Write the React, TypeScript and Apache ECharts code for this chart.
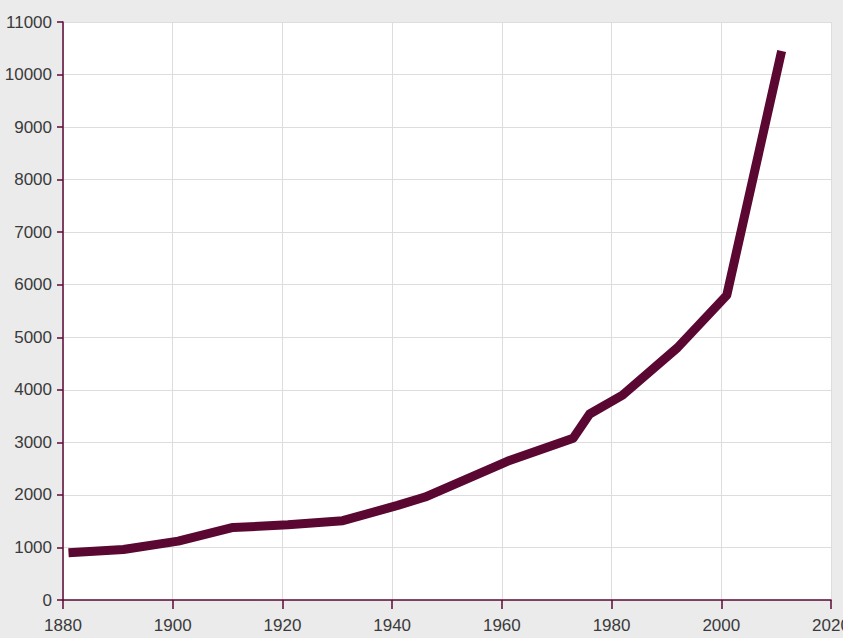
import React, { useEffect, useRef } from "react";
import * as echarts from "echarts";

const years: number[] = [1881, 1891, 1901, 1911, 1921, 1931, 1941, 1946, 1961, 1973, 1976, 1982, 1992, 2001, 2011];
const values: number[] = [900, 960, 1120, 1380, 1430, 1510, 1800, 1960, 2640, 3080, 3540, 3900, 4800, 5800, 10450];

const xMin = 1880;
const xMax = 2020;
const xStep = 20;
const yMin = 0;
const yMax = 11000;
const yStep = 1000;

export default function App() {
  const ref = useRef<HTMLDivElement>(null);
  useEffect(() => {
    document.body.style.margin = "0";
    if (!ref.current) return;
    const chart = echarts.init(ref.current, undefined, { renderer: "svg" });
    const axisColor = "#5c0a35";
    const labelStyle = {
      color: "#3a3a3a",
      fontSize: 17,
      fontFamily: "'Liberation Sans Narrow', 'Arial Narrow', 'Liberation Sans', sans-serif",
      formatter: (v: number) => String(v),
    };
    chart.setOption({
      animation: false,
      backgroundColor: "#ebebeb",
      grid: {
        left: 63,
        right: 12,
        top: 22,
        bottom: 38,
        show: true,
        backgroundColor: "#ffffff",
        borderWidth: 0,
        containLabel: false,
        outerBoundsMode: "none",
      },
      xAxis: {
        type: "value",
        min: xMin,
        max: xMax,
        interval: xStep,
        axisLine: { show: true, onZero: false, lineStyle: { color: axisColor, width: 1.5 } },
        axisTick: { show: true, length: 9, lineStyle: { color: axisColor, width: 1.5 } },
        axisLabel: { ...labelStyle, margin: 17, showMaxLabel: true },
        splitLine: { show: true, lineStyle: { color: "#dddddd", width: 1 } },
      },
      yAxis: {
        type: "value",
        min: yMin,
        max: yMax,
        interval: yStep,
        axisLine: { show: true, lineStyle: { color: axisColor, width: 1.5 } },
        axisTick: { show: true, length: 6, lineStyle: { color: axisColor, width: 1.5 } },
        axisLabel: { ...labelStyle, margin: 11 },
        splitLine: { show: true, lineStyle: { color: "#dddddd", width: 1 } },
      },
      series: [
        {
          type: "line",
          data: years.map((y, i) => [y, values[i]]),
          showSymbol: false,
          symbol: "none",
          lineStyle: { color: "#5a0732", width: 9, cap: "butt", join: "round" },
        },
      ],
    });
    return () => chart.dispose();
  }, []);
  return <div ref={ref} style={{ width: 843, height: 638 }} />;
}
